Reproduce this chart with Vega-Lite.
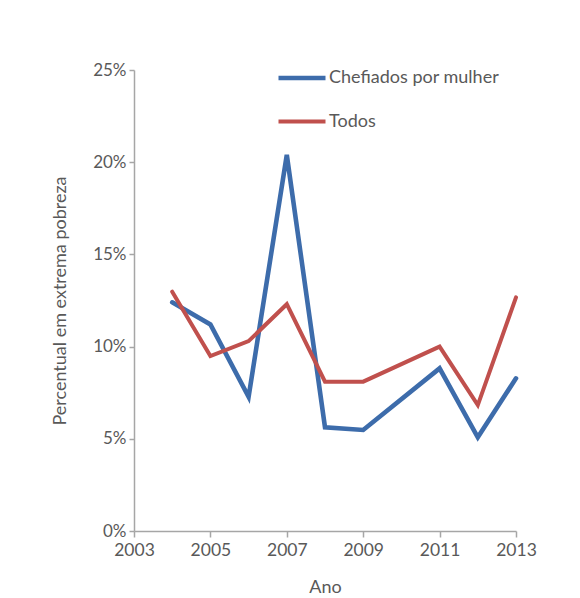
{
  "$schema": "https://vega.github.io/schema/vega-lite/v6.json",
  "autosize": {"type": "none"},
  "padding": {"left": 134, "top": 70, "right": 64, "bottom": 67},
  "width": 382,
  "height": 461,
  "background": "white",
  "config": {
    "view": {"stroke": null},
    "font": "Lato",
    "axis": {"labelColor": "#595959", "titleColor": "#595959", "domainColor": "#a6a6a6", "tickColor": "#a6a6a6", "domainWidth": 1.5, "tickWidth": 1.5, "grid": false, "labelFont": "Lato", "titleFont": "Lato", "titleFontWeight": "normal"},
    "legend": {"labelColor": "#595959", "labelFont": "Lato"}
  },
  "data": {
    "values": [
      {"ano": 2004, "serie": "Chefiados por mulher", "pct": 12.4},
      {"ano": 2005, "serie": "Chefiados por mulher", "pct": 11.2},
      {"ano": 2006, "serie": "Chefiados por mulher", "pct": 7.28},
      {"ano": 2007, "serie": "Chefiados por mulher", "pct": 20.4},
      {"ano": 2008, "serie": "Chefiados por mulher", "pct": 5.62},
      {"ano": 2009, "serie": "Chefiados por mulher", "pct": 5.48},
      {"ano": 2011, "serie": "Chefiados por mulher", "pct": 8.82},
      {"ano": 2012, "serie": "Chefiados por mulher", "pct": 5.08},
      {"ano": 2013, "serie": "Chefiados por mulher", "pct": 8.28},
      {"ano": 2004, "serie": "Todos", "pct": 12.98},
      {"ano": 2005, "serie": "Todos", "pct": 9.49},
      {"ano": 2006, "serie": "Todos", "pct": 10.3},
      {"ano": 2007, "serie": "Todos", "pct": 12.3},
      {"ano": 2008, "serie": "Todos", "pct": 8.1},
      {"ano": 2009, "serie": "Todos", "pct": 8.1},
      {"ano": 2011, "serie": "Todos", "pct": 10.0},
      {"ano": 2012, "serie": "Todos", "pct": 6.83},
      {"ano": 2013, "serie": "Todos", "pct": 12.67}
    ]
  },
  "mark": {"type": "line", "strokeCap": "round", "strokeJoin": "miter"},
  "encoding": {
    "x": {
      "field": "ano", "type": "quantitative",
      "scale": {"domain": [2003, 2013], "nice": false, "zero": false},
      "axis": {"title": "Ano", "values": [2003, 2005, 2007, 2009, 2011, 2013], "format": "d", "labelFontSize": 17.5, "titleFontSize": 18, "tickSize": 6, "labelPadding": 4, "titlePadding": 20, "labelFlush": false}
    },
    "y": {
      "field": "pct", "type": "quantitative",
      "scale": {"domain": [0, 25], "nice": false},
      "axis": {"title": "Percentual em extrema pobreza", "values": [0, 5, 10, 15, 20, 25], "labelExpr": "datum.value + '%'", "labelFontSize": 17, "titleFontSize": 18, "tickSize": 5, "labelPadding": 3, "titlePadding": 23}
    },
    "color": {
      "field": "serie", "type": "nominal",
      "scale": {"domain": ["Chefiados por mulher", "Todos"], "range": ["#3d6cab", "#c0504d"]},
      "legend": {"title": null, "orient": "none", "legendX": 142, "legendY": -18, "symbolType": "stroke", "symbolSize": 2209, "symbolStrokeWidth": 4.5, "labelFontSize": 18, "labelOffset": 1, "labelLimit": 400, "rowPadding": 8}
    },
    "strokeWidth": {
      "field": "serie", "type": "nominal",
      "scale": {"domain": ["Chefiados por mulher", "Todos"], "range": [4.6, 4]},
      "legend": null
    }
  }
}
